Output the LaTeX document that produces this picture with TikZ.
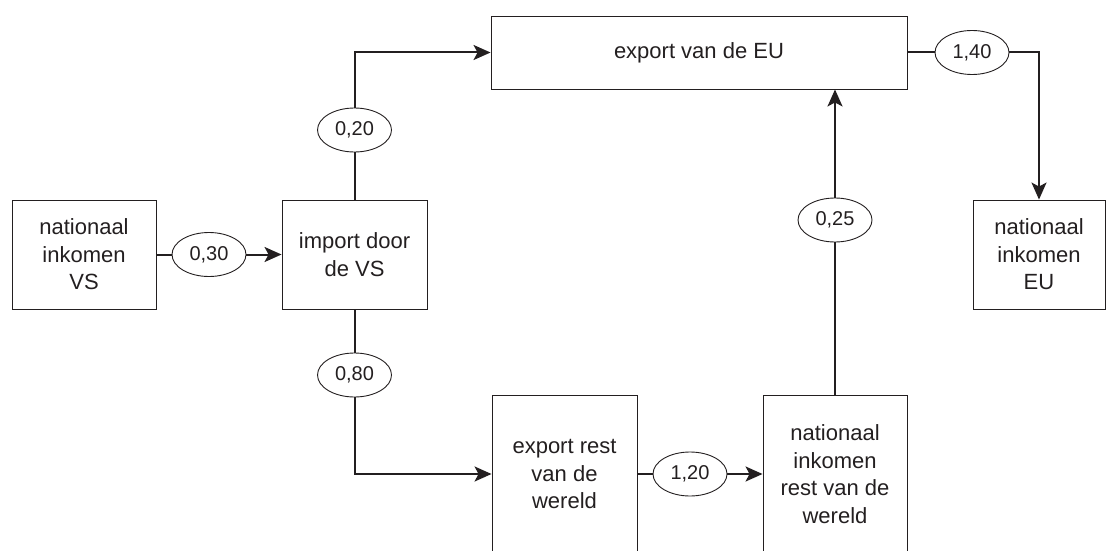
\documentclass[tikz,border=0pt]{standalone}
\usepackage{fontspec}
\setmainfont{Liberation Sans}
\usepackage{tikz}
\usetikzlibrary{shapes, arrows.meta}
\definecolor{ink}{RGB}{35,31,32}
\tikzstyle{block} = [rectangle, draw=ink, line width=0.9pt, align=center, inner sep=0pt, text=ink, font=\fontsize{22}{27.5}\selectfont]
\tikzstyle{factor} = [ellipse, draw=ink, line width=0.9pt, minimum width=74pt, minimum height=44pt, inner sep=0pt, text=ink, font=\fontsize{20}{24}\selectfont]
\tikzstyle{line} = [draw=ink, line width=2pt]
\tikzstyle{arrow} = [line, -{Stealth[length=17pt, width=15pt, inset=4pt]}]

\begin{document}
\begin{tikzpicture}[x=1pt, y=-1pt]
        \useasboundingbox (0,0) rectangle (1106,551);
        % blocks
        \node [block, minimum width=144pt, minimum height=109pt] (vs) at (84,254.5) {nationaal\\inkomen\\VS};
        \node [block, minimum width=145pt, minimum height=109pt] (imp) at (354.5,254.5) {import door\\de VS};
        \node [block, minimum width=416pt, minimum height=73pt] (eu) at (699,52.5) {export van de EU};
        \node [block, minimum width=132pt, minimum height=109pt] (euinc) at (1039,254.5) {nationaal\\inkomen\\EU};
        \node [block, minimum width=145pt, minimum height=158pt] (exp) at (564.5,474) {export rest\\van de\\wereld};
        \node [block, minimum width=144pt, minimum height=158pt] (rest) at (835,474) {nationaal\\inkomen\\rest van de\\wereld};

        % multipliers
        \node [factor] (w30) at (209,254.5) {0,30};
        \node [factor] (w20) at (354.5,130) {0,20};
        \node [factor] (w80) at (354.5,375) {0,80};
        \node [factor] (w120) at (690,474) {1,20};
        \node [factor] (w25) at (835,220) {0,25};
        \node [factor] (w140) at (972,52.5) {1,40};

        % arrows
        \draw [line] (vs) -- (w30);
        \draw [arrow] (w30) -- (imp);
        \draw [line] (imp) -- (w20);
        \draw [arrow] (w20) |- (eu);
        \draw [line] (imp) -- (w80);
        \draw [arrow] (w80) |- (exp);
        \draw [line] (exp) -- (w120);
        \draw [arrow] (w120) -- (rest);
        \draw [line] (rest) -- (w25);
        \draw [arrow] (w25) -- (w25 |- eu.south);
        \draw [line] (eu) -- (w140);
        \draw [arrow] (w140) -| (euinc);
\end{tikzpicture}
\end{document}
